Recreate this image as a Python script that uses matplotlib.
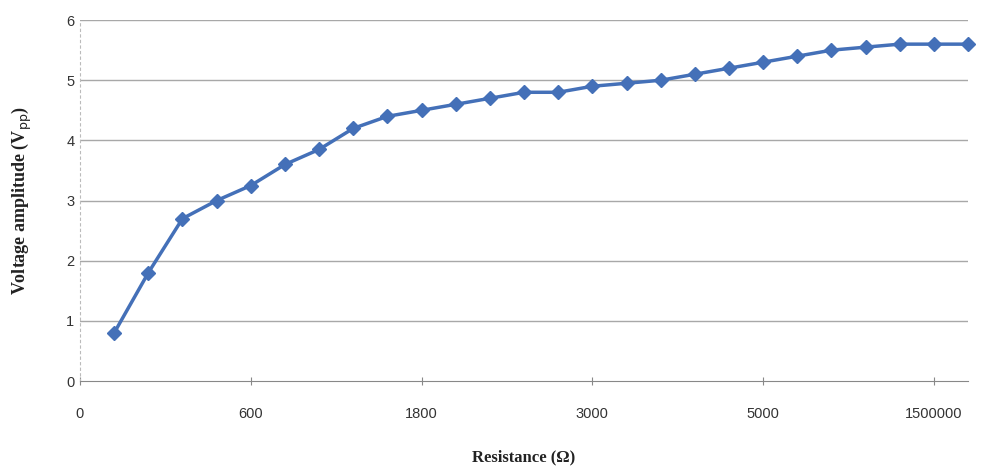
import matplotlib.pyplot as plt

# category labels shown on the x axis (every 5th category)
tick_labels = ["0", "600", "1800", "3000", "5000", "1500000"]
tick_pos = [0, 5, 10, 15, 20, 25]

# measured voltage amplitude, one value per resistance step
voltage = [0.8, 1.8, 2.7, 3.0, 3.25, 3.6, 3.85, 4.2, 4.4, 4.5,
           4.6, 4.7, 4.8, 4.8, 4.9, 4.95, 5.0, 5.1, 5.2, 5.3,
           5.4, 5.5, 5.55, 5.6, 5.6, 5.6]
steps = list(range(1, len(voltage) + 1))

fig = plt.figure(figsize=(9.95, 4.67), dpi=100)
ax = fig.add_axes([0.0804, 0.184, 0.8926, 0.773])

ax.plot(steps, voltage, color="#4470B8", lw=2.5, marker="D", ms=7,
        markeredgecolor="#4470B8", zorder=3, clip_on=False)

ax.set_xlim(0, 26)
ax.set_ylim(0, 6)
ax.set_yticks(range(0, 7))
ax.set_xticks(tick_pos)
ax.set_xticklabels(tick_labels)

# gridlines
for y in range(1, 7):
    ax.axhline(y, color="#a8a8a8", lw=1.0, zorder=1)

for s in ["top", "right"]:
    ax.spines[s].set_visible(False)
ax.spines["bottom"].set_color("#888888")
ax.spines["left"].set_color("#bbbbbb")
ax.spines["left"].set_linestyle((0, (2, 3)))

ax.tick_params(axis="x", direction="inout", length=6, color="#888888",
               labelsize=10.5, labelcolor="#333333", pad=16)
ax.tick_params(axis="y", length=0, labelsize=10.5, labelcolor="#333333", pad=4)
for lab in ax.get_xticklabels() + ax.get_yticklabels():
    lab.set_family("Liberation Sans")

ax.set_xlabel("Resistance (\u03a9)", family="Liberation Serif",
              fontweight="bold", fontsize=12, color="#222222", labelpad=20)
ax.set_ylabel("Voltage amplitude (V$_{\\mathrm{pp}}$)", family="Liberation Serif",
              fontweight="bold", fontsize=13, color="#222222", labelpad=23)

fig.savefig("out.png", dpi=100)
